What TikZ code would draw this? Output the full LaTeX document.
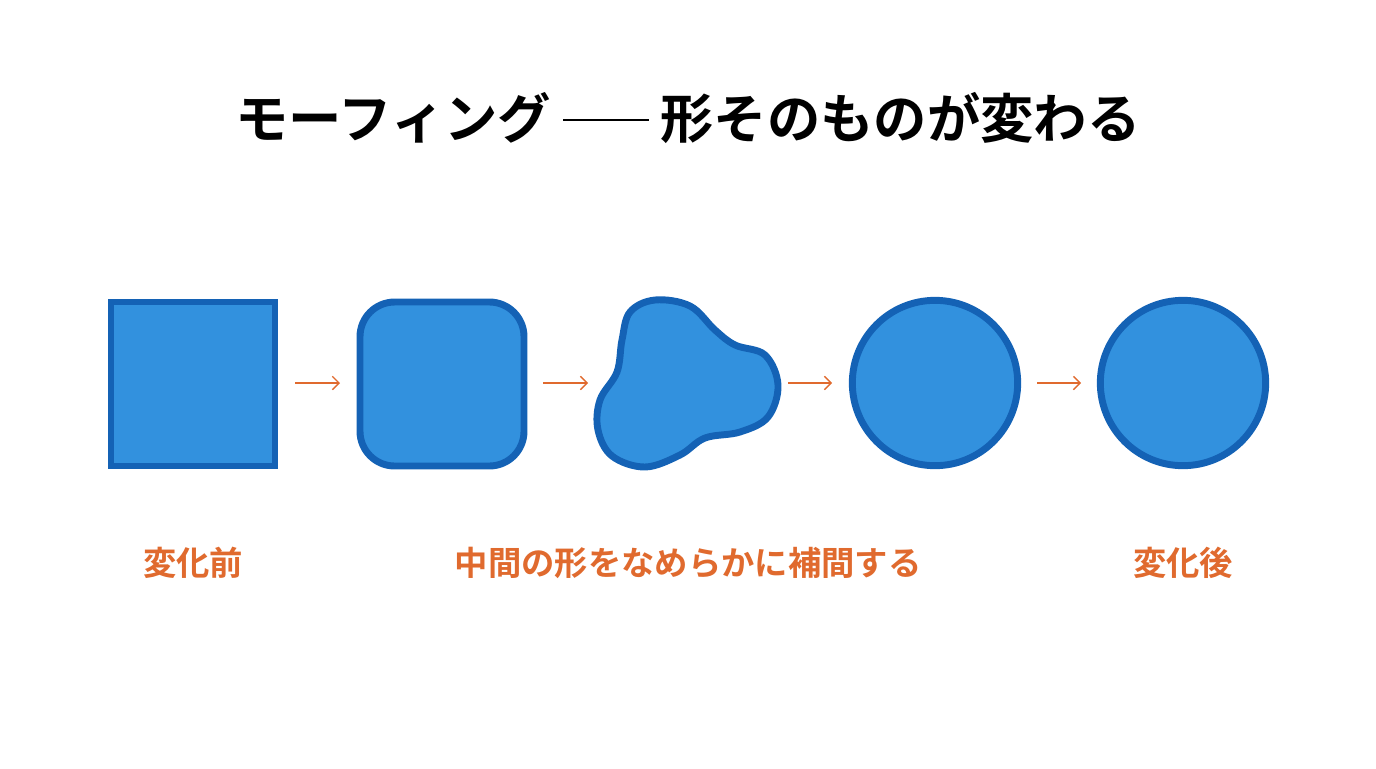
\documentclass[tikz,border=0pt]{standalone}
\usepackage{fontspec}
\newfontfamily\jp{Noto Sans CJK JP}[BoldFont={* Bold}]
\usetikzlibrary{arrows.meta}
\begin{document}
\begin{tikzpicture}[x=0.75pt,y=-0.75pt,
  shp/.style={draw=dblue,fill=lblue,line width=5.2pt},
  arr/.style={draw=orng,line width=1pt,-{Straight Barb[length=5pt,width=10pt]}},
  lab/.style={text=orng,font=\jp\bfseries\fontsize{25}{28}\selectfont}]
\definecolor{dblue}{HTML}{1462B5}
\definecolor{lblue}{HTML}{3291DE}
\definecolor{orng}{HTML}{E06A2E}
\useasboundingbox (0,0) rectangle (1376,768);
\node (title) at (688,118) {\jp\bfseries\fontsize{40}{46}\selectfont モーフィング\ \rule[0.33em]{1.6em}{0.04em}\ 形そのものが変わる};
\node[shp,minimum size=123pt,inner sep=0pt] (s1) at (193,384) {};
\node[shp,minimum size=123pt,inner sep=0pt,rounded corners=26pt] (s2) at (442,384) {};
\draw[shp] plot[smooth cycle,tension=0.6] coordinates {(600,400) (598,430) (612,456) (645,467) (680,455) (705,438) (740,432) (768,417) (778,385) (765,355) (735,345) (715,330) (690,306) (655,300) (630,312) (622,340) (617,372)};
\node[shp,circle,minimum size=124pt,inner sep=0pt] (s4) at (935,383) {};
\node[shp,circle,minimum size=124pt,inner sep=0pt] (s5) at (1183,383) {};
\coordinate (a1s) at (295,383); \coordinate (a1e) at (340,383);
\coordinate (a2s) at (543,383); \coordinate (a2e) at (588,383);
\coordinate (a3s) at (788,383); \coordinate (a3e) at (832,383);
\coordinate (a4s) at (1037,383); \coordinate (a4e) at (1081,383);
\draw[arr] (a1s) -- (a1e);
\draw[arr] (a2s) -- (a2e);
\draw[arr] (a3s) -- (a3e);
\draw[arr] (a4s) -- (a4e);
\node[lab] (l1) at (193,563) {変化前};
\node[lab] (l2) at (688,563) {中間の形をなめらかに補間する};
\node[lab] (l3) at (1183,563) {変化後};
\end{tikzpicture}
\end{document}
